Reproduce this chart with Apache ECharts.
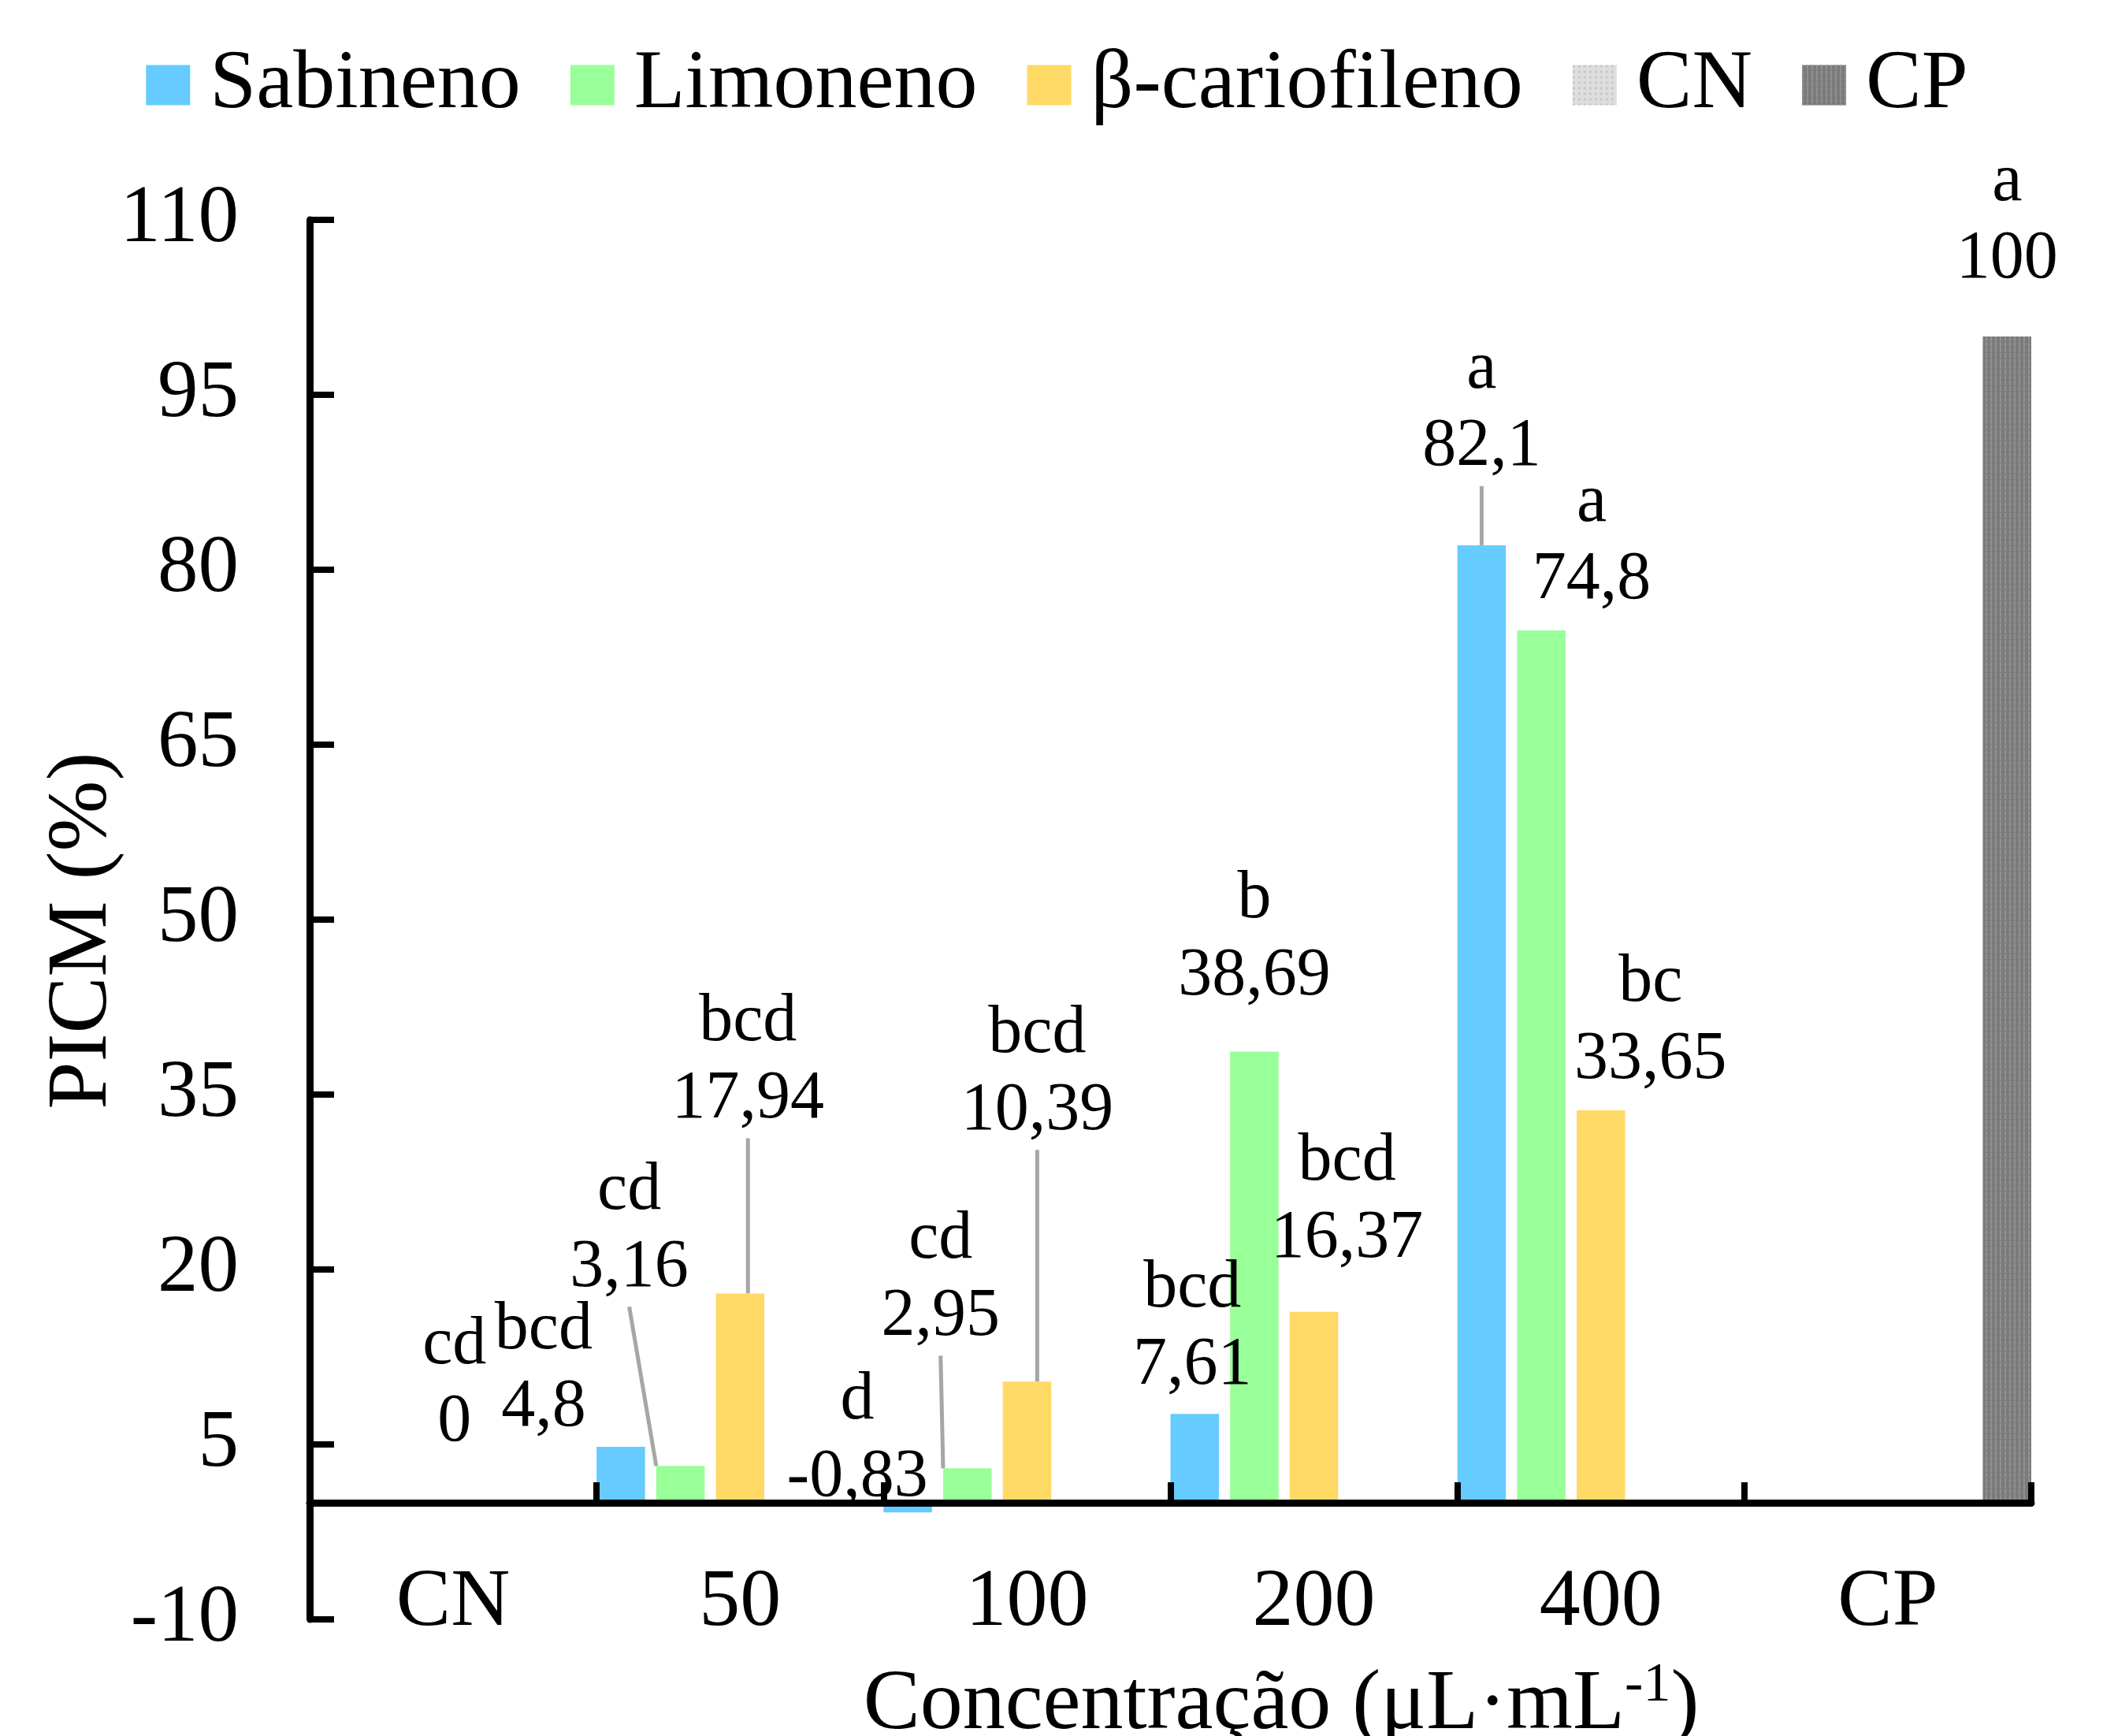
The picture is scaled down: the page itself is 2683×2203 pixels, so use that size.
<!DOCTYPE html>
<html>
<head>
<meta charset="utf-8">
<script src="https://cdn.jsdelivr.net/npm/echarts@6/dist/echarts.min.js"></script>
<style>
html,body{margin:0;padding:0;background:#fff;}
#chart{width:2683px;height:2203px;}
</style>
</head>
<body>
<div id="chart"></div>
<script>
// ---------- data ----------
const categories = ['CN', '50', '100', '200', '400', 'CP'];
const seriesNames = ['Sabineno', 'Limoneno', 'β-cariofileno', 'CN', 'CP'];
const sabineno = [null, 4.8, -0.83, 7.61, 82.1, null];
const limoneno = [null, 3.16, 2.95, 38.69, 74.8, null];
const cariofileno = [null, 17.94, 10.39, 16.37, 33.65, null];
const cnValues = [0, null, null, null, null, null];
const cpValues = [null, null, null, null, null, 100];
const sabinenoLetters = ['', 'bcd', 'd', 'bcd', 'a', ''];
const limonenoLetters = ['', 'cd', 'cd', 'b', 'a', ''];
const cariofilenoLetters = ['', 'bcd', 'bcd', 'bcd', 'bc', ''];
const cnLetters = ['cd', '', '', '', '', ''];
const cpLetters = ['', '', '', '', '', 'a'];
const yMin = -10, yMax = 110, yStep = 15;
const xAxisTitle = 'Concentração (μL·mL{sup|-1})';
const yAxisTitle = 'PICM (%)';

// ---------- style / layout ----------
const FONT = "'Liberation Serif', 'Times New Roman', serif";
const labelShift = {
  'Sabineno': [null, [-98, 4], [-64, 22], [-3, -7], [0, -70], null],
  'Limoneno': [null, [-65, -197], [-34, -138], [0, -41], [64, -10], null],
  'β-cariofileno': [null, [10, -192], [13, -289], [42, -38], [63, -10], null],
  'CN': [[-74, -48], null, null, null, null, null],
  'CP': [null, null, null, null, null, [0, -44]]
};
const leaderLines = { 'Sabineno': [4], 'Limoneno': [1, 2], 'β-cariofileno': [1, 2] };

function fmt(v) { return String(v).replace('.', ','); }

function makeSeries(name, values, letters, color, decal) {
  const itemStyle = { color: color };
  if (decal) itemStyle.decal = decal;
  const leaders = leaderLines[name] || [];
  return {
    name: name,
    type: 'bar',
    xAxisIndex: 0,
    yAxisIndex: 0,
    barGap: '23%',
    barCategoryGap: '0%',
    itemStyle: itemStyle,
    data: values.map(function (v, i) {
      if (v === null) return '-';
      const item = { value: v, letter: letters[i] };
      if (leaders.indexOf(i) >= 0) item.labelLine = { show: true, lineStyle: { color: '#A6A6A6', width: 5 } };
      return item;
    }),
    label: {
      show: true,
      position: 'top',
      formatter: function (p) { return p.data.letter + '\n' + fmt(p.value); },
      fontSize: 86,
      lineHeight: 98,
      fontFamily: FONT,
      color: '#000'
    },
    labelLayout: function (p) {
      const s = labelShift[name][p.dataIndex];
      return s ? { dx: s[0], dy: s[1] } : {};
    },
    labelLine: { show: false, lineStyle: { color: '#A6A6A6', width: 5 } }
  };
}

const chart = echarts.init(document.getElementById('chart'), null, { renderer: 'canvas' });
chart.setOption({
  animation: false,
  backgroundColor: '#ffffff',
  legend: {
    data: seriesNames,
    top: 55,
    left: 'center',
    padding: 0,
    icon: 'rect',
    itemWidth: 56,
    itemHeight: 51,
    itemGap: 63,
    selectedMode: false,
    textStyle: { fontSize: 106, fontFamily: FONT, color: '#000', padding: [0, 0, 0, 20] }
  },
  grid: { left: 393, right: 105, top: 279, bottom: 148, containLabel: false, outerBoundsMode: 'none' },
  xAxis: [
    {
      type: 'category',
      data: categories,
      position: 'bottom',
      z: 5,
      axisLine: { show: true, onZero: true, lineStyle: { color: '#000', width: 9 } },
      axisTick: { show: true, inside: true, length: 26, lineStyle: { color: '#000', width: 8 } },
      axisLabel: { show: false },
      splitLine: { show: false }
    },
    {
      type: 'category',
      data: categories,
      position: 'bottom',
      axisLine: { show: false, onZero: false },
      axisTick: { show: false },
      splitLine: { show: false },
      axisLabel: { show: true, fontSize: 104, lineHeight: 104, fontFamily: FONT, color: '#000', margin: -20, verticalAlign: 'middle' },
      name: xAxisTitle,
      nameLocation: 'middle',
      nameGap: 50,
      nameTextStyle: {
        fontSize: 108, lineHeight: 120, fontFamily: FONT, color: '#000',
        padding: [0, 0, 0, 281],
        rich: { sup: { fontSize: 70, lineHeight: 80, verticalAlign: 'top', fontFamily: FONT, color: '#000' } }
      }
    }
  ],
  yAxis: {
    type: 'value',
    min: yMin,
    max: yMax,
    interval: yStep,
    axisLine: { show: true, lineStyle: { color: '#000', width: 9 } },
    axisTick: { show: true, inside: true, length: 31, lineStyle: { color: '#000', width: 8 } },
    axisLabel: { fontSize: 103, fontFamily: FONT, color: '#000', margin: 90 },
    splitLine: { show: false },
    name: yAxisTitle,
    nameLocation: 'middle',
    nameGap: 233,
    nameMoveOverlap: false,
    nameTextStyle: { fontSize: 108, lineHeight: 108, fontFamily: FONT, color: '#000', padding: [0, 28, 0, 0] }
  },
  series: [
    makeSeries('Sabineno', sabineno, sabinenoLetters, '#66CCFF'),
    makeSeries('Limoneno', limoneno, limonenoLetters, '#99FF99'),
    makeSeries('β-cariofileno', cariofileno, cariofilenoLetters, '#FFD966'),
    makeSeries('CN', cnValues, cnLetters, '#DEDEDE', { symbol: 'rect', symbolSize: 1, dashArrayX: [3, 4], dashArrayY: [3, 4], color: '#C8C8C8' }),
    makeSeries('CP', cpValues, cpLetters, '#7B7B7B', { symbol: 'rect', symbolSize: 1, dashArrayX: [2, 4], dashArrayY: [6, 1], color: '#929292' })
  ]
});
</script>
</body>
</html>
